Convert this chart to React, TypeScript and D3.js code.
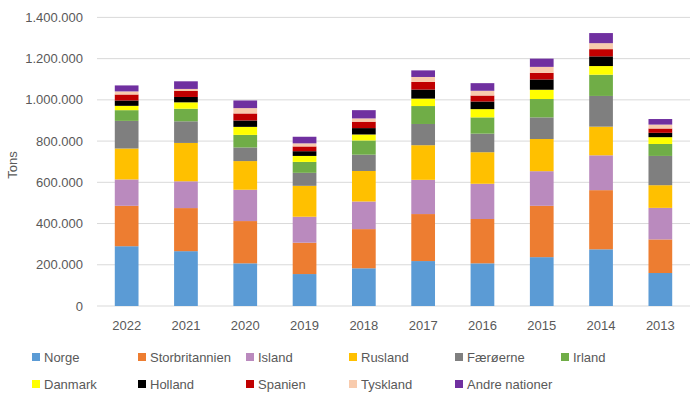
import React from 'react'
import * as d3 from 'd3'

// years as shown, newest first
const years = ['2022', '2021', '2020', '2019', '2018', '2017', '2016', '2015', '2014', '2013']

// tons per nation
const norge = [290000, 266000, 207000, 155000, 183000, 218000, 207000, 237000, 275000, 160000]
const storbritannien = [196000, 209000, 205000, 152000, 190000, 228000, 215000, 249000, 287000, 163000]
const island = [128000, 130000, 152000, 126000, 134000, 166000, 171000, 168000, 169000, 153000]
const rusland = [150000, 186000, 139000, 150000, 148000, 168000, 153000, 156000, 139000, 110000]
const faeroerne = [134000, 105000, 66000, 63000, 79000, 103000, 90000, 105000, 149000, 142000]
const irland = [52000, 61000, 61000, 53000, 69000, 87000, 79000, 89000, 103000, 58000]
const danmark = [21000, 31000, 39000, 29000, 29000, 36000, 40000, 45000, 42000, 33000]
const holland = [26000, 26000, 31000, 23000, 31000, 44000, 37000, 50000, 47000, 21000]
const spanien = [29000, 29000, 34000, 23000, 31000, 37000, 29000, 32000, 35000, 21000]
const tyskland = [15000, 10000, 26000, 15000, 16000, 24000, 23000, 29000, 29000, 19000]
const andre = [29000, 37000, 37000, 32000, 40000, 32000, 37000, 40000, 49000, 27000]

const yTicks = [0, 200000, 400000, 600000, 800000, 1000000, 1200000, 1400000]

const series = [
  { name: 'Norge', color: '#5B9BD5', values: norge },
  { name: 'Storbritannien', color: '#ED7D31', values: storbritannien },
  { name: 'Island', color: '#BA8ABE', values: island },
  { name: 'Rusland', color: '#FFC000', values: rusland },
  { name: 'Færøerne', color: '#7F7F7F', values: faeroerne },
  { name: 'Irland', color: '#70AD47', values: irland },
  { name: 'Danmark', color: '#FFFF00', values: danmark },
  { name: 'Holland', color: '#000000', values: holland },
  { name: 'Spanien', color: '#C00000', values: spanien },
  { name: 'Tyskland', color: '#F8CBAD', values: tyskland },
  { name: 'Andre nationer', color: '#7030A0', values: andre },
]

const W = 700
const H = 397
const font = '"Liberation Sans", Arial, sans-serif'
const textColor = '#595959'

// format like 1.400.000
const fmt = (v: number) => d3.format(',')(v).replace(/,/g, '.')

export default function App() {
  const rows = years.map((y, i) => {
    const r: any = { year: y }
    series.forEach(s => { r[s.name] = s.values[i] })
    return r
  })
  const stacked = d3.stack().keys(series.map(s => s.name))(rows)

  const x = d3.scaleBand().domain(years).range([97, 690]).paddingInner(0.6).paddingOuter(0.3)
  const y = d3.scaleLinear().domain([0, 1400000]).range([306, 17.4])

  const legendCols = [32, 138, 246, 349, 455, 561]
  const legendRows = [357, 384]

  return (
    <svg width={W} height={H} style={{ position: 'absolute', left: 0, top: 0 }} fontFamily={font}>
      <rect width={W} height={H} fill="#fff" />
      {/* gridlines */}
      {yTicks.map(t => (
        <line key={t} x1={97} x2={690} y1={y(t)} y2={y(t)} stroke="#D9D9D9" strokeWidth={1} />
      ))}
      {yTicks.map(t => (
        <text key={'l' + t} x={83} y={y(t)} dy="0.35em" textAnchor="end" fontSize={13} fill={textColor}>
          {fmt(t)}
        </text>
      ))}
      <text transform={`translate(17,165) rotate(-90)`} textAnchor="middle" fontSize={13} fill={textColor}>
        Tons
      </text>

      {/* bars */}
      {stacked.map((layer, si) => (
        <g key={layer.key} fill={series[si].color}>
          {layer.map((d, i) => (
            <rect
              key={years[i]}
              x={x(years[i])}
              width={x.bandwidth()}
              y={y(d[1])}
              height={y(d[0]) - y(d[1])}
            />
          ))}
        </g>
      ))}

      {years.map(yr => (
        <text key={yr} x={(x(yr) as number) + x.bandwidth() / 2} y={325} dy="0.35em" textAnchor="middle" fontSize={13} fill={textColor}>
          {yr}
        </text>
      ))}

      {/* legend */}
      {series.map((s, i) => {
        const lx = legendCols[i % 6]
        const ly = legendRows[Math.floor(i / 6)]
        return (
          <g key={s.name}>
            <rect x={lx} y={ly - 4} width={8} height={8} fill={s.color} />
            <text x={lx + 12} y={ly} dy="0.35em" fontSize={13} fill={textColor}>{s.name}</text>
          </g>
        )
      })}
    </svg>
  )
}
